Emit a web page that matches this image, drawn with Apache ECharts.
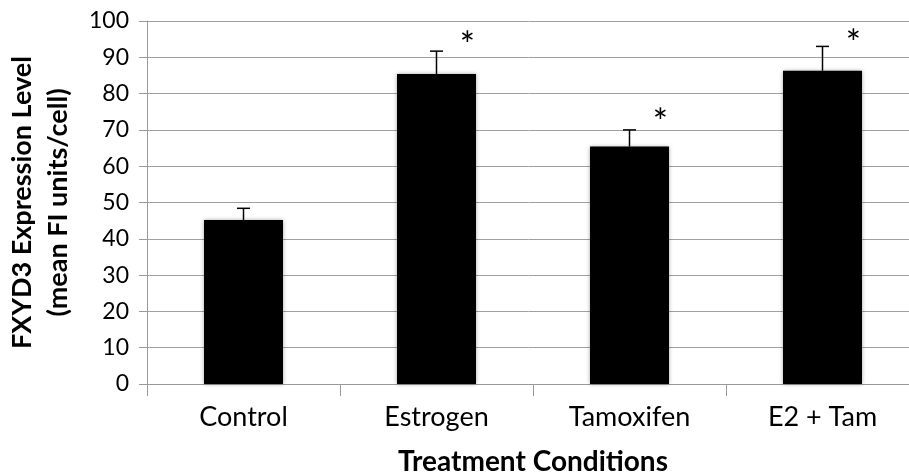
<!DOCTYPE html>
<html>
<head>
<meta charset="utf-8">
<script src="https://cdn.jsdelivr.net/npm/echarts@6/dist/echarts.min.js"></script>
<style>html,body{margin:0;padding:0;background:#fff}#c{width:909px;height:474px}</style>
</head>
<body>
<div id="c"></div>
<script>
const categories = ['Control', 'Estrogen', 'Tamoxifen', 'E2 + Tam'];
const means = [45.2, 85.4, 65.4, 86.3];
const errorTops = [48.4, 91.7, 70.0, 93.0];
const sigMarks = [null, 95.4, 74.4, 95.9];
const yTicks = { min: 0, max: 100, interval: 10 };

const chart = echarts.init(document.getElementById('c'));
const FONT = 'Lato';

chart.setOption({
  animation: false,
  grid: { left: 147, width: 772, top: 21, height: 363, containLabel: false, outerBoundsMode: 'none' },
  xAxis: {
    type: 'category',
    data: categories,
    name: 'Treatment Conditions',
    nameLocation: 'middle',
    nameGap: 64,
    nameTextStyle: { fontFamily: FONT, fontWeight: 'bold', fontSize: 28, color: '#000' },
    axisLine: { show: true, lineStyle: { color: '#999', width: 1 } },
    axisTick: { show: true, length: 12, lineStyle: { color: '#999', width: 1 } },
    axisLabel: { fontFamily: FONT, fontSize: 27, color: '#000', margin: 20 },
    splitLine: { show: false }
  },
  yAxis: {
    type: 'value',
    min: yTicks.min, max: yTicks.max, interval: yTicks.interval,
    name: 'FXYD3 Expression Level\n(mean FI units/cell)',
    nameLocation: 'middle',
    nameGap: 71,
    nameTextStyle: { fontFamily: FONT, fontWeight: 'bold', fontSize: 27, color: '#000', lineHeight: 36 },
    axisLine: { show: true, lineStyle: { color: '#999', width: 1 } },
    axisTick: { show: true, length: 8, lineStyle: { color: '#999', width: 1 } },
    axisLabel: { fontFamily: FONT, fontSize: 23, color: '#000', margin: 18 },
    splitLine: { show: true, lineStyle: { color: '#a0a0a0', width: 1 } }
  },
  series: [
    {
      type: 'custom',
      z: 1,
      renderItem: function (params, api) {
        const i = api.value(0);
        const top = api.coord([i, api.value(2)]);
        const base = api.coord([i, api.value(1)]);
        const half = 6.5;
        return {
          type: 'group',
          children: [
            { type: 'line', shape: { x1: top[0], y1: top[1], x2: base[0], y2: base[1] }, style: { stroke: '#000', lineWidth: 1.5 } },
            { type: 'line', shape: { x1: top[0] - half, y1: top[1], x2: top[0] + half, y2: top[1] }, style: { stroke: '#000', lineWidth: 1.5 } }
          ]
        };
      },
      data: categories.map((c, i) => [i, means[i], errorTops[i]])
    },
    {
      type: 'bar',
      z: 2,
      data: means,
      barWidth: 79,
      itemStyle: { color: '#000', shadowColor: 'rgba(0,0,0,0.35)', shadowBlur: 4 }
    },
    {
      type: 'custom',
      z: 3,
      renderItem: function (params, api) {
        const i = api.value(0);
        const p = api.coord([i, api.value(1)]);
        return {
          type: 'text',
          x: p[0] + 31,
          y: p[1] + 9,
          style: { text: '*', fontFamily: FONT, fontSize: 36, fill: '#000', align: 'center', verticalAlign: 'middle' }
        };
      },
      data: sigMarks.map((v, i) => v == null ? null : [i, v]).filter(d => d)
    }
  ]
});
</script>
</body>
</html>
